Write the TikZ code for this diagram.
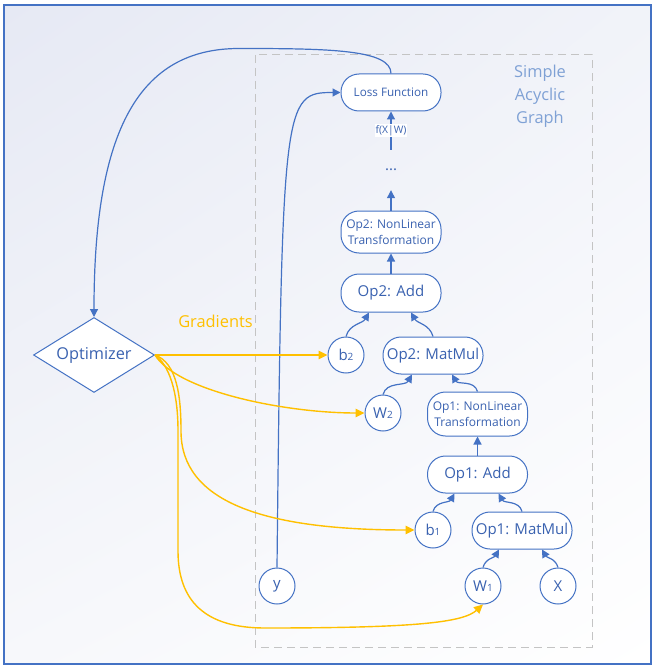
\documentclass[tikz,border=0pt]{standalone}
\usepackage{fontspec}
\setmainfont{Open Sans}
\usetikzlibrary{shapes.geometric,arrows.meta,shadings}
\definecolor{mblue}{HTML}{4472C4}
\definecolor{tblue}{HTML}{3A62B0}
\definecolor{lblue}{HTML}{7FA1D5}
\definecolor{gold}{HTML}{FFC000}
\definecolor{dgray}{HTML}{C4C4C4}
\definecolor{bgA}{HTML}{E6E9F4}
\definecolor{bgB}{HTML}{F1F3F9}
\definecolor{bgC}{HTML}{F7F8FB}
\newcommand{\subnum}[1]{{\fontsize{10}{10}\selectfont #1}}
\begin{document}
\begin{tikzpicture}[x=1pt,y=1pt,
  opbox/.style={draw=mblue, line width=1pt, fill=white, rounded corners=18pt,
    minimum width=100pt, inner sep=0pt, align=center, text=tblue},
  var/.style={circle, draw=mblue, line width=1pt, fill=white, minimum size=36pt,
    inner sep=0pt, text=tblue, font=\fontsize{15}{15}\selectfont},
  flow/.style={draw=mblue, line width=1.2pt, -{Triangle[length=8pt,width=8pt]}},
  grad/.style={draw=gold, line width=1.4pt, -{Triangle[length=9pt,width=8.5pt]}}]

\useasboundingbox (0,0) rectangle (655,-668);
\shade[upper left=bgA, upper right=bgB, lower left=bgC, lower right=white] (4,-5) rectangle (651,-664);
\draw[mblue, line width=1.2pt] (4,-5) rectangle (651,-664);
\draw[dgray, line width=1pt, dash pattern=on 8pt off 5pt] (255,-55) rectangle (592,-647);

% nodes
\node[opbox, minimum height=37pt, font=\fontsize{11.7}{14}\selectfont] (loss) at (391,-92.5) {Loss Function};
\node[inner sep=0pt, minimum height=40pt, text=tblue, font=\fontsize{15}{15}\selectfont] (dots) at (391,-170) {...};
\node[opbox, minimum height=42pt, font=\fontsize{12}{16.5}\selectfont] (op2nl) at (391,-232) {Op2: NonLinear\\Transformation};
\node[opbox, minimum height=38pt, font=\fontsize{15}{15}\selectfont] (op2add) at (391,-293) {Op2: Add};
\node[var] (b2) at (346,-355) {b\subnum{2}};
\node[opbox, minimum height=37pt, font=\fontsize{15}{15}\selectfont] (op2mm) at (433,-355.5) {Op2: MatMul};
\node[var] (w2) at (383,-413) {W\subnum{2}};
\node[opbox, minimum height=44pt, font=\fontsize{12}{16}\selectfont] (op1nl) at (477.5,-414) {Op1: NonLinear\\Transformation};
\node[opbox, minimum height=37pt, font=\fontsize{15}{15}\selectfont] (op1add) at (477.5,-474.5) {Op1: Add};
\node[var] (b1) at (433,-530) {b\subnum{1}};
\node[opbox, minimum height=37pt, font=\fontsize{15}{15}\selectfont] (op1mm) at (522,-530.5) {Op1: MatMul};
\node[var] (y) at (277,-586) {y};
\node[var] (w1) at (483,-586) {W\subnum{1}};
\node[var] (x) at (558,-586) {X};
\node[diamond, aspect=1.6, draw=mblue, line width=1pt, fill=white, minimum width=121pt,
  minimum height=75pt, inner sep=0pt, text=tblue, font=\fontsize{16.3}{18}\selectfont] (opt) at (94,-355) {Optimizer};
\node[text=gold, inner sep=0pt, font=\fontsize{16.4}{20}\selectfont] (glab) at (215.5,-321.5) {Gradients};
\node[text=lblue, inner sep=0pt, align=center, anchor=north, font=\fontsize{16.4}{23}\selectfont] (sag) at (540,-65) {Simple\\Acyclic\\Graph};

% blue connectors
\draw[flow] (y.north) .. controls +(5,468) and +(-57,0) .. (loss.west);
\draw[flow] (loss.north) .. controls +(0,24) and +(90,0) .. ++(-152,25)
  .. controls +(-100,0) and +(0,187) .. (opt.north);
\draw[flow] (dots.north) -- node[fill=white, inner sep=1pt, text=tblue, font=\fontsize{10.3}{12}\selectfont] (flab) {f(X|W)} (loss.south);
\draw[flow] (op2nl.north) -- (dots.south);
\draw[flow] (op2add.north) -- (op2nl.south);
\draw[flow] (b2.north) to[out=75,in=-120] ([xshift=-22pt]op2add.south);
\draw[flow] (op2mm.north) to[out=105,in=-60] ([xshift=20pt]op2add.south);
\draw[flow] (w2.north) to[out=75,in=-120] ([xshift=-21pt]op2mm.south);
\draw[flow] (op1nl.north) to[out=105,in=-60] ([xshift=19pt]op2mm.south);
\draw[flow] (op1add.north) -- (op1nl.south);
\draw[flow] (b1.north) to[out=75,in=-120] ([xshift=-23pt]op1add.south);
\draw[flow] (op1mm.north) to[out=105,in=-60] ([xshift=21pt]op1add.south);
\draw[flow] (w1.north) to[out=75,in=-120] ([xshift=-23pt]op1mm.south);
\draw[flow] (x.north) to[out=105,in=-60] ([xshift=20pt]op1mm.south);

% gradient connectors
\draw[grad] (opt.east) -- (b2.west);
\draw[grad] (opt.east) .. controls +(22,-36) and +(-80,0) .. (w2.west);
\draw[grad] (opt.east) .. controls +(22,-8) and +(0,35) .. ++(26,-76)
  .. controls +(0,-70) and +(-153,0) .. (b1.west);
\draw[grad] (opt.east) .. controls +(14,-10) and +(0,40) .. ++(23,-76) -- ++(0,-120)
  .. controls +(0,-50) and +(-60,0) .. ++(87,-77)
  .. controls +(150,0) and +(-20,-18) .. (w1.south);
\end{tikzpicture}
\end{document}
